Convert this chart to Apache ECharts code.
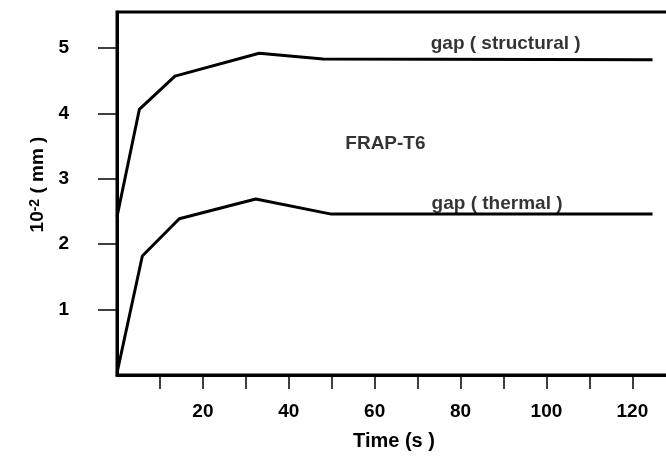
<!DOCTYPE html>
<html>
<head>
<meta charset="utf-8">
<script src="https://cdn.jsdelivr.net/npm/echarts@6/dist/echarts.min.js"></script>
<style>
  html, body { margin: 0; padding: 0; background: #fff; }
  #chart { width: 666px; height: 459px; }
</style>
</head>
<body>
<div id="chart"></div>
<script>
// gap widths (10^-2 mm vs time in s)
var structuralTime = [0, 5.2, 13.5, 33.1, 48.0, 124.7];
var structuralGap = [2.42, 4.06, 4.57, 4.92, 4.83, 4.82];
var thermalTime = [0, 5.9, 14.5, 32.3, 49.9, 124.7];
var thermalGap = [0.03, 1.82, 2.39, 2.69, 2.46, 2.46];

// tick marks and labels
var xTicks = [10, 20, 30, 40, 50, 60, 70, 80, 90, 100, 110, 120];
var xLabels = [20, 40, 60, 80, 100, 120];
var yTicks = [1, 2, 3, 4, 5];

// text notes placed in data space
var noteText = ['gap ( structural )', 'gap ( thermal )', 'FRAP-T6'];
var noteX = [90.5, 88.5, 62.5];
var noteY = [5.06, 2.62, 3.53];

var font = '"Liberation Sans", Arial, Helvetica, sans-serif';

function pairs(xs, ys) {
    var out = [];
    for (var i = 0; i < xs.length; i++) {
        out.push([xs[i], ys[i]]);
    }
    return out;
}

var notes = [];
for (var i = 0; i < noteText.length; i++) {
    notes.push({ value: [noteX[i], noteY[i]], name: noteText[i] });
}

var myChart = echarts.init(document.getElementById('chart'));
var option = {
    backgroundColor: '#fff',
    animation: false,
    grid: {
        left: 117,
        right: -5,
        top: 12,
        bottom: 84,
        outerBoundsMode: 'none',
        show: true,
        borderColor: '#000',
        borderWidth: 3
    },
    xAxis: {
        type: 'value',
        min: 0,
        max: 129,
        interval: 10,
        name: 'Time (s )',
        nameLocation: 'middle',
        nameGap: 56,
        nameTextStyle: { color: '#000', fontFamily: font, fontWeight: 'bold', fontSize: 20 },
        axisLine: { show: true, lineStyle: { color: '#000', width: 3 } },
        axisTick: { show: true, length: 14, customValues: xTicks, lineStyle: { color: '#000', width: 1.5 } },
        axisLabel: {
            margin: 27,
            color: '#000',
            fontFamily: font,
            fontWeight: 'bold',
            fontSize: 19,
            customValues: xLabels
        },
        splitLine: { show: false }
    },
    yAxis: {
        type: 'value',
        min: 0,
        max: 5.55,
        interval: 1,
        name: '{b|10}{s|-2}{b| ( mm )}',
        nameLocation: 'middle',
        nameGap: 70,
        nameRotate: 90,
        nameTextStyle: {
            color: '#000',
            fontFamily: font,
            fontWeight: 'bold',
            fontSize: 19,
            padding: [0, 0, 0, 18],
            rich: {
                b: { color: '#000', fontFamily: font, fontWeight: 'bold', fontSize: 19 },
                s: { color: '#000', fontFamily: font, fontWeight: 'bold', fontSize: 14, verticalAlign: 'top' }
            }
        },
        axisLine: { show: true, lineStyle: { color: '#000', width: 3 } },
        axisTick: { show: true, length: 19, customValues: yTicks, lineStyle: { color: '#000', width: 1.5 } },
        axisLabel: {
            margin: 48,
            color: '#000',
            fontFamily: font,
            fontWeight: 'bold',
            fontSize: 19,
            customValues: yTicks
        },
        splitLine: { show: false }
    },
    series: [{
        name: 'gap (structural)',
        type: 'line',
        showSymbol: false,
        data: pairs(structuralTime, structuralGap),
        lineStyle: { color: '#000', width: 3 }
    }, {
        name: 'gap (thermal)',
        type: 'line',
        showSymbol: false,
        data: pairs(thermalTime, thermalGap),
        lineStyle: { color: '#000', width: 3 }
    }, {
        name: 'notes',
        type: 'scatter',
        symbolSize: 0,
        data: notes,
        label: {
            show: true,
            position: 'inside',
            formatter: '{b}',
            color: '#000',
            fontFamily: font,
            fontWeight: 'bold',
            fontSize: 19
        },
        silent: true
    }]
};
myChart.setOption(option);
</script>
</body>
</html>
